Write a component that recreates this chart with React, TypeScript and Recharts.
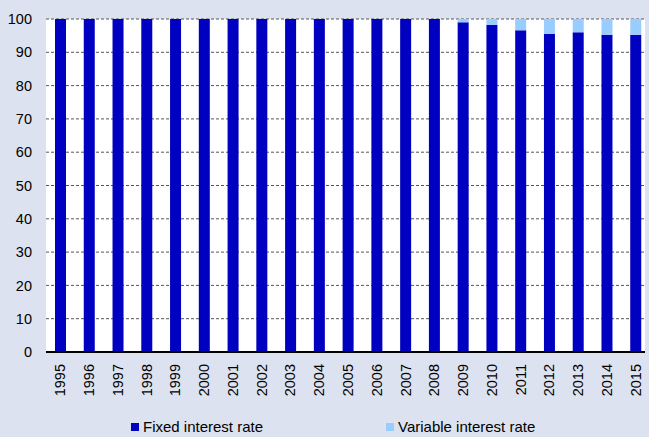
import { BarChart, Bar, XAxis, YAxis, CartesianGrid, Legend } from "recharts"

const years = [
  "1995", "1996", "1997", "1998", "1999", "2000", "2001", "2002", "2003", "2004", "2005",
  "2006", "2007", "2008", "2009", "2010", "2011", "2012", "2013", "2014", "2015",
]
const fixedRate = [
  100, 100, 100, 100, 100, 100, 100, 100, 100, 100, 100,
  100, 100, 100, 99.0, 98.2, 96.6, 95.6, 96.0, 95.3, 95.3,
]
const variableRate = [
  0, 0, 0, 0, 0, 0, 0, 0, 0, 0, 0,
  0, 0, 0, 1.0, 1.8, 3.4, 4.4, 4.0, 4.7, 4.7,
]
const yTicks = [0, 10, 20, 30, 40, 50, 60, 70, 80, 90, 100]

const data = years.map((year, i) => ({
  year,
  fixed: fixedRate[i],
  variable: variableRate[i],
}))

const FONT = "'Liberation Sans', Arial, sans-serif"
const BG = "#dce2ef"

function YearTick({ x, y, payload }: any) {
  return (
    <text
      x={x}
      y={y + 10}
      transform={`rotate(-90, ${x}, ${y + 10})`}
      textAnchor="end"
      dominantBaseline="central"
      fontSize={14.5}
      fontFamily={FONT}
      fill="#000"
    >
      {payload.value}
    </text>
  )
}

function LegendContent() {
  const item = (color: string, label: string, left: number) => (
    <div style={{ position: "absolute", left, top: 11, display: "flex", alignItems: "center" }}>
      <span style={{ width: 8, height: 8, background: color, display: "inline-block", marginRight: 4 }} />
      <span style={{ fontSize: 15, fontFamily: FONT, color: "#000" }}>{label}</span>
    </div>
  )
  return (
    <div style={{ position: "relative", width: 649, height: 30 }}>
      {item("#0000c0", "Fixed interest rate", 131)}
      {item("#99ccff", "Variable interest rate", 386)}
    </div>
  )
}

export default function App() {
  return (
    <div style={{ position: "absolute", left: 0, top: 0, width: 649, height: 437, background: BG }}>
      <BarChart
        width={649}
        height={437}
        data={data}
        margin={{ top: 19, right: 4, left: 0, bottom: 0 }}
        barSize={11}
      >
        <CartesianGrid vertical={false} stroke="#555" strokeDasharray="3 2" fill="#fff" />
        <XAxis
          dataKey="year"
          height={55}
          interval={0}
          tickLine={false}
          tickSize={0}
          tick={<YearTick />}
          axisLine={{ stroke: "#000", strokeWidth: 2 }}
          padding={{ left: 0, right: -5 }}
        />
        <YAxis
          width={46}
          domain={[0, 100]}
          ticks={yTicks}
          interval={0}
          tickLine={false}
          axisLine={false}
          tickMargin={8}
          tick={{ fontSize: 14.5, fontFamily: FONT, fill: "#000" }}
        />
        <Legend verticalAlign="bottom" height={30} content={<LegendContent />} />
        <Bar dataKey="fixed" stackId="a" fill="#0000c0" isAnimationActive={false} />
        <Bar dataKey="variable" stackId="a" fill="#99ccff" isAnimationActive={false} />
      </BarChart>
    </div>
  )
}
